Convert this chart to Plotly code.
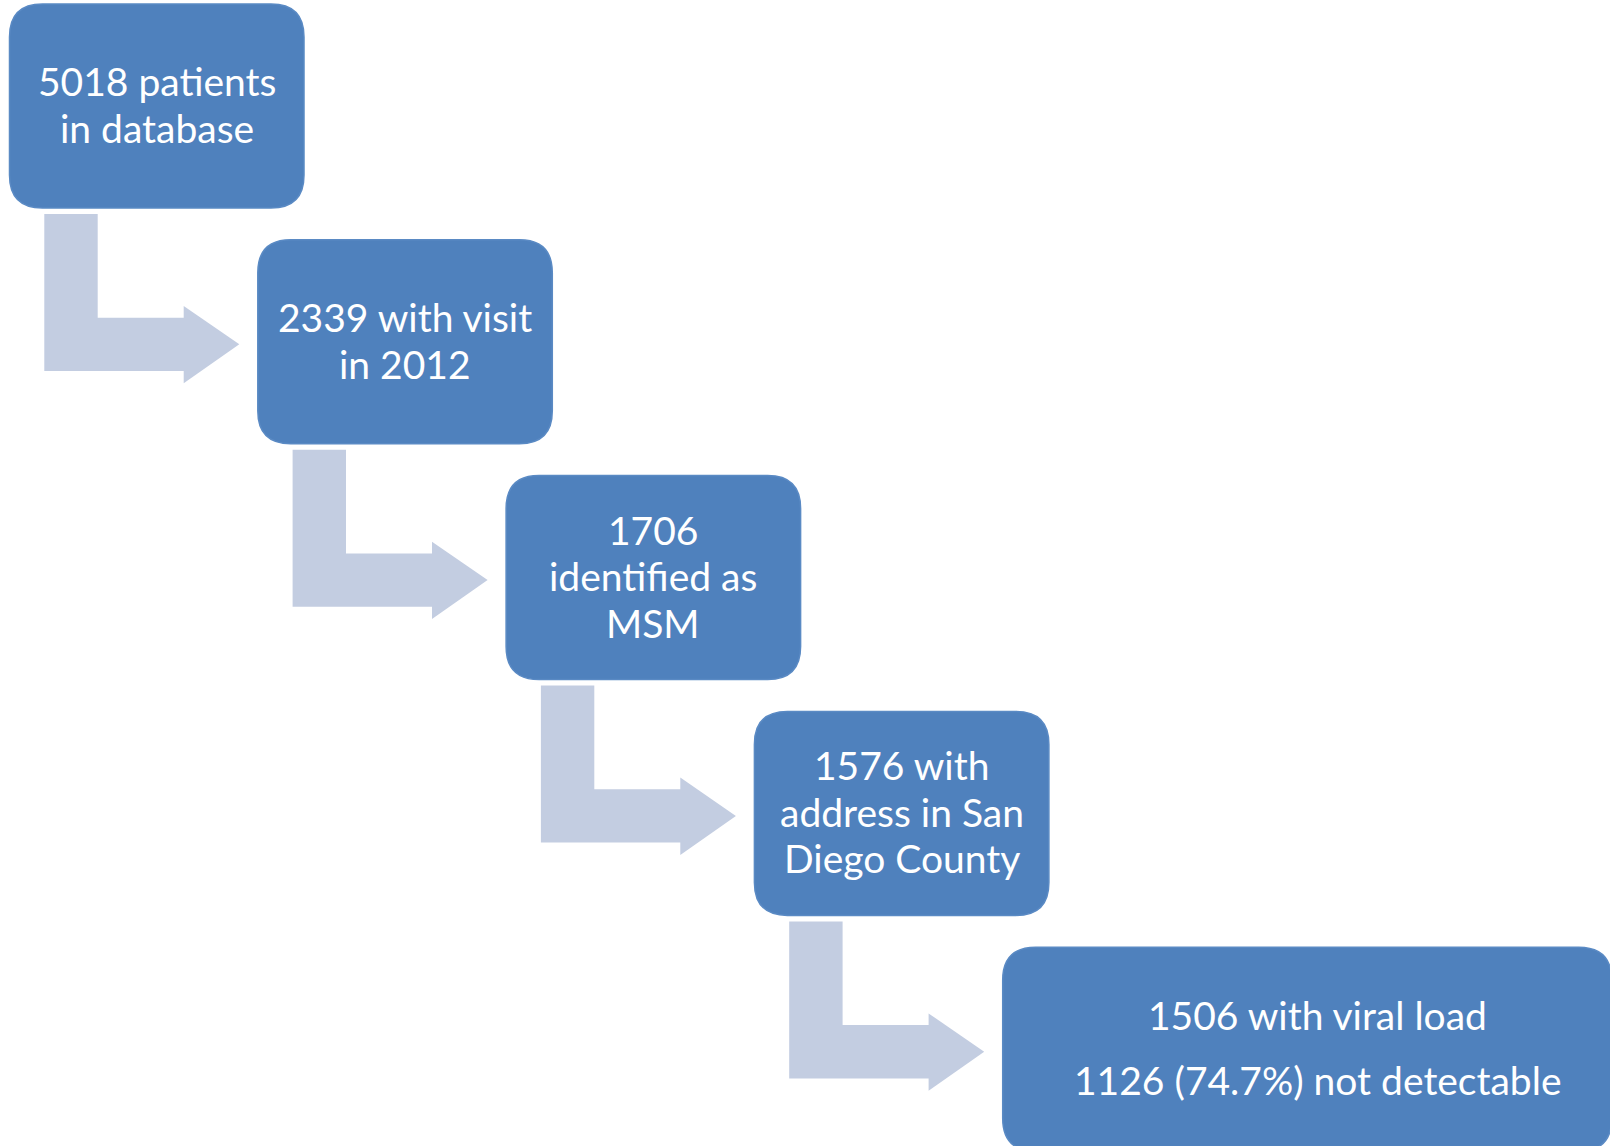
import plotly.graph_objects as go

# ---- data: flow steps (text lines of each box) ----
step_lines = [
    ["5018 patients", "in database"],
    ["2339 with visit", "in 2012"],
    ["1706", "identified as", "MSM"],
    ["1576 with", "address in San", "Diego County"],
    ["1506 with viral load", "1126 (74.7%) not detectable"],
]

# ---- layout constants (pixels) ----
W, H = 1610, 1146
X0, Y0 = 9.5, 4.0
DX, DY = 248.3, 235.8
BW, BH = 294.5, 204.0
LAST_BW = 609.0
R = 33.0
LINE_GAP = [47, 47, 46.5, 46.5, 64.5]
BOX_COLOR = "#4F81BD"
ARROW_COLOR = "#C3CDE1"
FONT = "Lato"
FONT_SIZE = 39


def rounded_rect(x0, y0, x1, y1, r):
    return (f"M {x0+r},{y0} L {x1-r},{y0} Q {x1},{y0} {x1},{y0+r} "
            f"L {x1},{y1-r} Q {x1},{y1} {x1-r},{y1} "
            f"L {x0+r},{y1} Q {x0},{y1} {x0},{y1-r} "
            f"L {x0},{y0+r} Q {x0},{y0} {x0+r},{y0} Z")


def bent_arrow(bx, by):
    sl, sr = bx + 34.8, bx + 88.2
    top = by + 210
    bt, bb = by + 313.7, by + 367
    hb, ht, hbot = bx + 174.2, by + 302, by + 379.3
    tipx, tipy = bx + 229.8, by + 340.3
    return (f"M {sl},{top} L {sr},{top} L {sr},{bt} L {hb},{bt} L {hb},{ht} "
            f"L {tipx},{tipy} L {hb},{hbot} L {hb},{bb} L {sl},{bb} Z")


fig = go.Figure()
shapes = []
annotations = []
n = len(step_lines)
for k, lines in enumerate(step_lines):
    bx, by = X0 + k * DX, Y0 + k * DY
    bw = LAST_BW if k == n - 1 else BW
    if k < n - 1:
        shapes.append(dict(type="path", path=bent_arrow(bx, by), xref="x", yref="y",
                           fillcolor=ARROW_COLOR, line=dict(width=0), layer="below"))
    shapes.append(dict(type="path", path=rounded_rect(bx, by, bx + bw, by + BH, R),
                       xref="x", yref="y", fillcolor=BOX_COLOR,
                       line=dict(color="#5A8AC4", width=1.5), layer="below"))
    cx = bx + bw / 2 + (10 if k == n - 1 else 0)
    cy = by + BH / 2 - 1.5
    m = len(lines)
    for i, t in enumerate(lines):
        y = cy + (i - (m - 1) / 2) * LINE_GAP[k]
        annotations.append(dict(x=cx, y=y, xref="x", yref="y", text=t, showarrow=False,
                                xanchor="center", yanchor="middle",
                                font=dict(family=FONT, size=FONT_SIZE, color="white")))

fig.update_layout(
    width=W, height=H, margin=dict(l=0, r=0, t=0, b=0),
    paper_bgcolor="white", plot_bgcolor="white",
    xaxis=dict(range=[0, W], visible=False, fixedrange=True),
    yaxis=dict(range=[H, 0], visible=False, fixedrange=True),
    shapes=shapes, annotations=annotations, showlegend=False,
)
fig.write_html("out.html")
